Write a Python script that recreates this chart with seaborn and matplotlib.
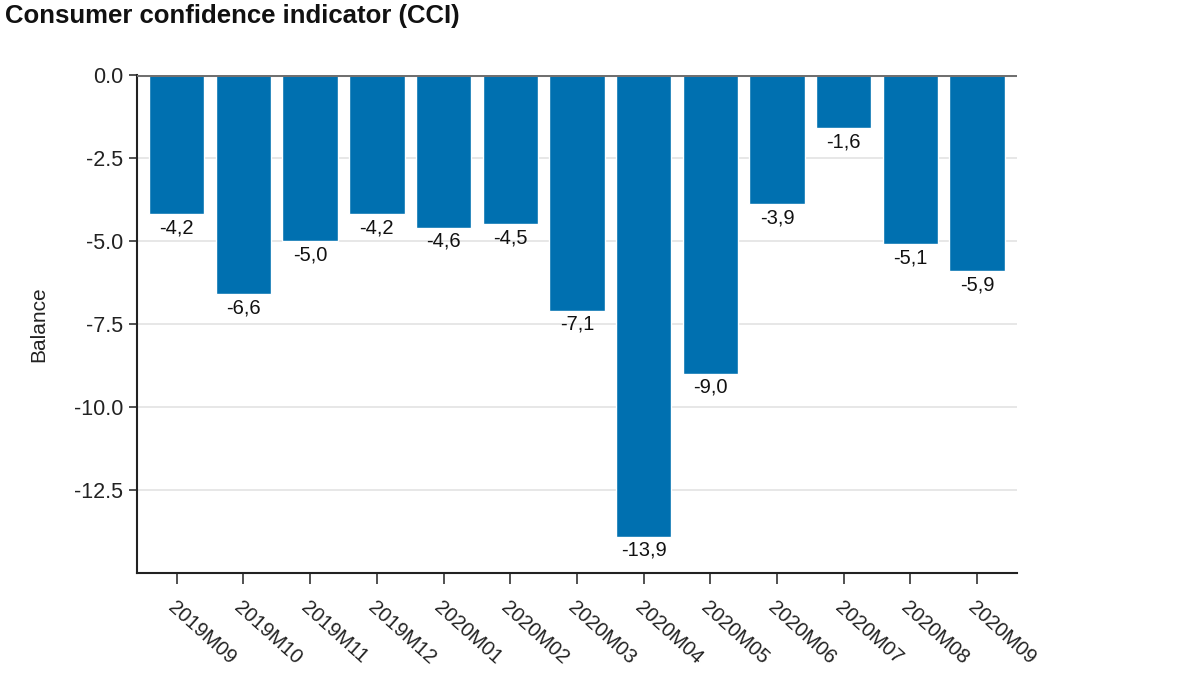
import matplotlib.pyplot as plt
import pandas as pd
import seaborn as sns

# CCI monthly balance
months = ["2019M09", "2019M10", "2019M11", "2019M12", "2020M01", "2020M02", "2020M03",
          "2020M04", "2020M05", "2020M06", "2020M07", "2020M08", "2020M09"]
balance = [-4.2, -6.6, -5.0, -4.2, -4.6, -4.5, -7.1, -13.9, -9.0, -3.9, -1.6, -5.1, -5.9]
y_ticks = [0.0, -2.5, -5.0, -7.5, -10.0, -12.5]

BAR_COLOR = "#0070b0"

sns.set_theme(style="white")
plt.rcParams["font.family"] = ["Liberation Sans", "DejaVu Sans"]

df = pd.DataFrame({"month": months, "balance": balance})

fig = plt.figure(figsize=(12, 6.75), dpi=100)
ax = fig.add_axes([0.114, 0.151, 0.7335, 0.738])

sns.barplot(data=df, x="month", y="balance", color=BAR_COLOR, saturation=1,
            width=0.83, ax=ax, zorder=3)

labels = [f"{v:.1f}".replace(".", ",") for v in balance]
ax.bar_label(ax.containers[0], labels=labels, padding=3, fontsize=14.5, color="#111111")

ax.set_ylim(-15, 0)
ax.set_xlim(-0.6, 12.6)
ax.set_yticks(y_ticks)
ax.set_yticklabels([f"{t:.1f}" for t in y_ticks], fontsize=15.5, color="#222222")
ax.grid(axis="y", color="#e3e3e3", linewidth=1.2, zorder=0)
ax.axhline(0, color="#707070", linewidth=2.2, zorder=4)

ax.set_xlabel("")
ax.set_ylabel("Balance", fontsize=15, color="#222222", labelpad=18)
ax.tick_params(axis="x", bottom=True, length=8, width=1.2, color="#333333", pad=10)
ax.tick_params(axis="y", left=True, length=6, width=1.2, color="#333333", pad=4)
plt.setp(ax.get_xticklabels(), rotation=-42, ha="left", va="top", rotation_mode="anchor",
         fontsize=14.5, color="#222222")

ax.spines[["top", "right"]].set_visible(False)
for side in ["left", "bottom"]:
    ax.spines[side].set_color("#222222")
    ax.spines[side].set_linewidth(1.5)

fig.text(0.004, 0.976, "Consumer confidence indicator (CCI)", fontsize=18.5,
         fontweight="bold", va="center", ha="left", color="#111111")

fig.savefig("out.png", dpi=100)
